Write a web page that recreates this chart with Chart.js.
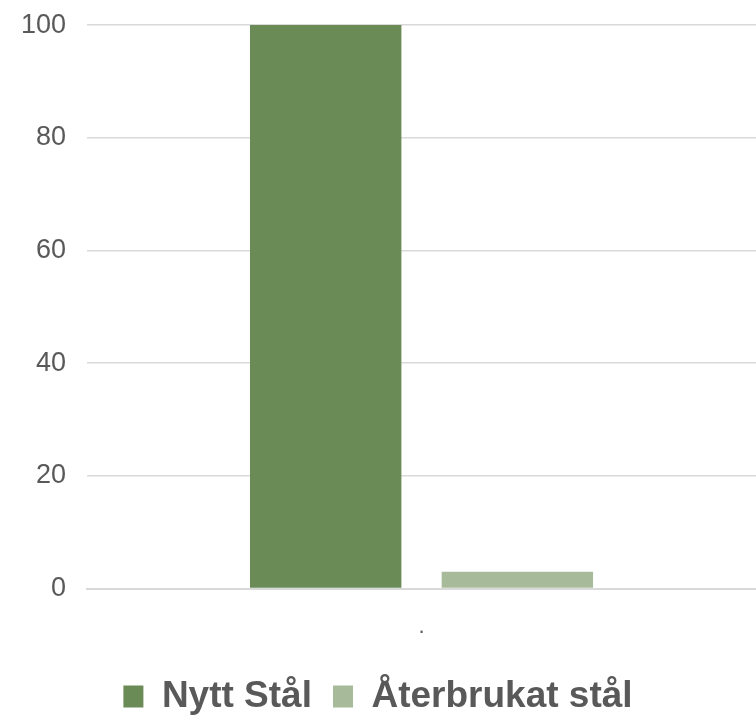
<!DOCTYPE html>
<html>
<head>
<meta charset="utf-8">
<script src="https://cdn.jsdelivr.net/npm/chart.js@4"></script>
<style>
  html, body { margin: 0; padding: 0; background: #fff; }
  #wrap { width: 756px; height: 725px; }
</style>
</head>
<body>
<div id="wrap"><canvas id="chart" width="756" height="725"></canvas></div>
<script>
// data
const categories = ['.'];
const seriesNames = ['Nytt Stål', 'Återbrukat stål'];
const nyttStal = [100];
const aterbrukatStal = [3];
const yTicks = [0, 20, 40, 60, 80, 100];

const colors = ['#6a8a56', '#a7bb9a'];
const textColor = '#595959';

const ctx = document.getElementById('chart').getContext('2d');

new Chart(ctx, {
    type: 'bar',
    data: {
        labels: categories,
        datasets: [{
            label: seriesNames[0],
            data: nyttStal,
            backgroundColor: colors[0]
        }, {
            label: seriesNames[1],
            data: aterbrukatStal,
            backgroundColor: colors[1]
        }]
    },
    options: {
        responsive: false,
        animation: false,
        categoryPercentage: 0.573,
        barPercentage: 0.79,
        layout: { padding: 0 },
        scales: {
            x: {
                grid: { display: false },
                border: { display: true, color: '#d9d9d9', width: 2 },
                ticks: {
                    color: textColor,
                    font: { family: 'Liberation Sans', size: 22 },
                    padding: 17
                }
            },
            y: {
                min: yTicks[0],
                max: yTicks[yTicks.length - 1],
                afterBuildTicks: axis => { axis.ticks = yTicks.map(v => ({ value: v })); },
                grid: { color: '#d9d9d9', lineWidth: 1.5, drawTicks: false },
                border: { display: false },
                ticks: {
                    color: textColor,
                    // small lineHeight keeps the top gap tight
                    font: { family: 'Liberation Sans', size: 27, lineHeight: 0.3 },
                    padding: 21
                }
            }
        },
        plugins: {
            legend: {
                position: 'bottom',
                labels: {
                    color: textColor,
                    font: { family: 'Liberation Sans', size: 37, weight: 'bold' },
                    boxWidth: 20,
                    boxHeight: 22,
                    padding: 21
                }
            },
            tooltip: { enabled: false }
        }
    }
});
</script>
</body>
</html>
